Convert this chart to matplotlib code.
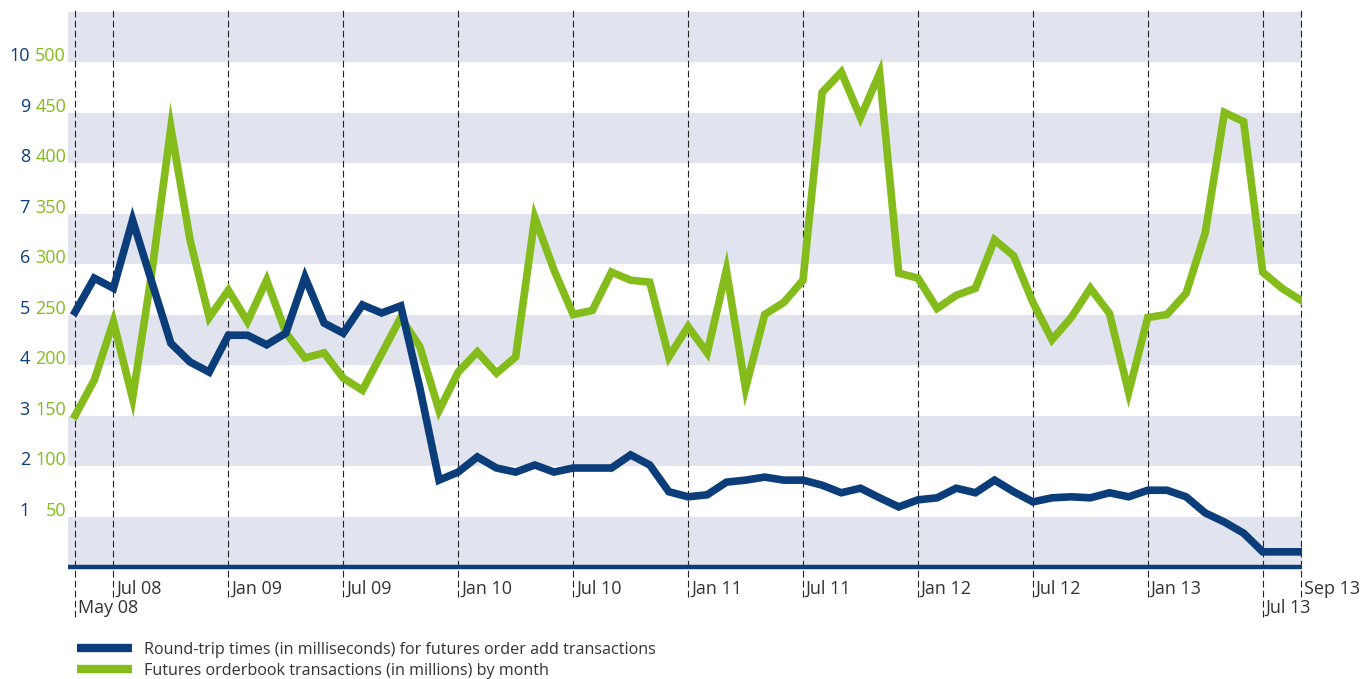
import numpy as np
import matplotlib
matplotlib.use("Agg")
import matplotlib.pyplot as plt
import matplotlib.transforms as mtransforms
from matplotlib.lines import Line2D

plt.rcParams['font.family'] = ['Open Sans', 'DejaVu Sans']

NAVY = '#0b3d7a'
LIME = '#84bc1c'
BAND = '#e1e4ee'
TEXT = '#333333'

# one point per month, May 2008 .. Sep 2013
months = np.arange(65)

# futures orderbook transactions (millions)
transactions = [150, 185, 243, 167, 291, 435, 324, 247, 274, 243,
                284, 232, 207, 212, 187, 175, 211, 247, 218, 155,
                193, 213, 192, 208, 346, 294, 250, 254, 292, 284,
                282, 208, 238, 212, 294, 177, 250, 262, 284, 470,
                490, 445, 489, 291, 286, 256, 269, 276, 324, 308,
                262, 225, 247, 276, 251, 173, 247, 250, 271, 331,
                450, 441, 292, 276, 264]

# round-trip times (milliseconds)
round_trip = [5.05, 5.72, 5.52, 6.87, 5.65, 4.43, 4.06, 3.86, 4.59, 4.59,
              4.40, 4.63, 5.74, 4.83, 4.63, 5.19, 5.03, 5.17, 3.54, 1.72,
              1.88, 2.18, 1.96, 1.88, 2.02, 1.88, 1.96, 1.96, 1.96, 2.22,
              2.02, 1.49, 1.39, 1.43, 1.68, 1.72, 1.78, 1.72, 1.72, 1.62,
              1.47, 1.56, 1.37, 1.19, 1.33, 1.37, 1.56, 1.47, 1.72, 1.49,
              1.29, 1.37, 1.39, 1.37, 1.47, 1.39, 1.52, 1.52, 1.39, 1.07,
              0.89, 0.67, 0.30, 0.30, 0.30]

# labelled months: (index, label, long dash)
marks = [(0, 'May 08', True), (2, 'Jul 08', False), (8, 'Jan 09', False),
         (14, 'Jul 09', False), (20, 'Jan 10', False), (26, 'Jul 10', False),
         (32, 'Jan 11', False), (38, 'Jul 11', False), (44, 'Jan 12', False),
         (50, 'Jul 12', False), (56, 'Jan 13', False), (62, 'Jul 13', True),
         (64, 'Sep 13', False)]

left_ticks = [1, 2, 3, 4, 5, 6, 7, 8, 9, 10]
right_ticks = [50, 100, 150, 200, 250, 300, 350, 400, 450, 500]

fig = plt.figure(figsize=(13.63, 6.79), dpi=100)
ax = fig.add_axes([68 / 1363, 1 - 567 / 679, 1234 / 1363, 557 / 679])
ax.set_xlim(-0.37, 64.05)
ax.set_ylim(0, 551.5)
for s in ax.spines.values():
    s.set_visible(False)
ax.set_xticks([])
ax.set_yticks([])

# horizontal bands
for lo in range(0, 551, 100):
    ax.axhspan(lo, lo + 50, color=BAND, lw=0, zorder=0)

# dashed month markers, running below the axis
xt = ax.get_xaxis_transform()
for i, lab, longer in marks:
    y0 = -0.09 if longer else -0.054
    ax.plot([i, i], [y0, 1], transform=xt, color='#222222', lw=0.8,
            dashes=(6, 3), clip_on=False, zorder=1)
    ty = -0.074 if longer else -0.04
    ax.text(i + 0.15, ty, lab, transform=xt, ha='left', va='center',
            fontsize=13, color=TEXT)

# baseline
ax.plot([0, 1], [0, 0], transform=ax.transAxes, color=NAVY, lw=3.2,
        clip_on=False, zorder=5, solid_capstyle='butt')

ax2 = ax.twinx()
ax2.set_ylim(0, 551.5 / 50)
ax2.set_xlim(ax.get_xlim())
ax2.axis('off')

ax.plot(months, transactions, color=LIME, lw=5.5, solid_joinstyle='miter', zorder=3)
ax2.plot(months, round_trip, color=NAVY, lw=5.5, solid_joinstyle='miter', zorder=4)

# left-hand scale labels, sitting just above each band edge
yt = ax.get_yaxis_transform()
for a, b in zip(left_ticks, right_ticks):
    tr = mtransforms.offset_copy(yt, fig=fig, x=-2, y=6, units='dots')
    ax.text(0, b, str(b), transform=tr, ha='right', va='center',
            fontsize=13, color=LIME, clip_on=False)
    tr2 = mtransforms.offset_copy(yt, fig=fig, x=-38, y=6, units='dots')
    ax.text(0, b, str(a), transform=tr2, ha='right', va='center',
            fontsize=13, color=NAVY, clip_on=False)

handles = [Line2D([], [], color=NAVY, lw=6, solid_capstyle='butt'),
           Line2D([], [], color=LIME, lw=6, solid_capstyle='butt')]
fig.legend(handles,
           ['Round-trip times (in milliseconds) for futures order add transactions',
            'Futures orderbook transactions (in millions) by month'],
           loc='upper left', bbox_to_anchor=(69 / 1363, 1 - 634 / 679),
           frameon=False, fontsize=11.6, handlelength=3.4, handletextpad=0.75,
           labelspacing=0.28, borderpad=0, labelcolor=TEXT)

fig.savefig('out.png', dpi=100)
